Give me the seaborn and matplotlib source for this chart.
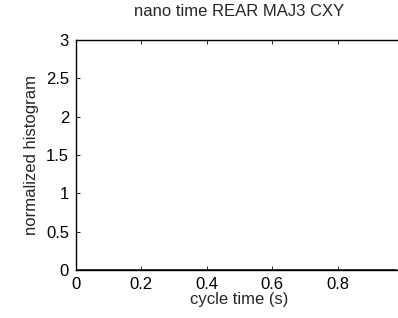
import numpy as np
import pandas as pd
import matplotlib
matplotlib.use("Agg")
import matplotlib.pyplot as plt
import seaborn as sns

# histogram bin centres (cycle time, s) and normalized counts - all empty
bin_centers = [0.0, 0.1, 0.2, 0.3, 0.4, 0.5, 0.6, 0.7, 0.8, 0.9, 0.98]
norm_hist = [0, 0, 0, 0, 0, 0, 0, 0, 0, 0, 0]
x_ticks = [0, 0.2, 0.4, 0.6, 0.8]
x_tick_labels = ["0", "0.2", "0.4", "0.6", "0.8"]
y_ticks = [0, 0.5, 1, 1.5, 2, 2.5, 3]
y_tick_labels = ["0", "0.5", "1", "1.5", "2", "2.5", "3"]

df = pd.DataFrame({"cycle time (s)": bin_centers, "normalized histogram": norm_hist})

sns.set_theme(style="ticks")
plt.rcParams["font.family"] = ["Liberation Sans", "DejaVu Sans"]

fig = plt.figure(figsize=(3.98, 3.18), dpi=100)
ax = fig.add_axes([76 / 398, 1 - 270 / 318, 327 / 398, 230 / 318])

sns.lineplot(data=df, x="cycle time (s)", y="normalized histogram", ax=ax,
             color="black", linewidth=1.8)

ax.set_xlim(0, 1)
ax.set_ylim(0, 3)
ax.set_xticks(x_ticks)
ax.set_xticklabels(x_tick_labels)
ax.set_yticks(y_ticks)
ax.set_yticklabels(y_tick_labels)
ax.tick_params(direction="in", length=3, width=0.6, top=True, right=True,
               labelsize=12, colors="black")
ax.tick_params(axis="x", pad=5)
ax.tick_params(axis="y", pad=5)
for side in ["left", "bottom", "top", "right"]:
    ax.spines[side].set_color("black")
    ax.spines[side].set_linewidth(1.0)

ax.set_xlabel("cycle time (s)", fontsize=12, labelpad=0)
ax.set_ylabel("normalized histogram", fontsize=12, labelpad=5)
ax.set_title("nano time REAR MAJ3 CXY", fontsize=12, pad=17)

fig.savefig("out.png", dpi=100)
